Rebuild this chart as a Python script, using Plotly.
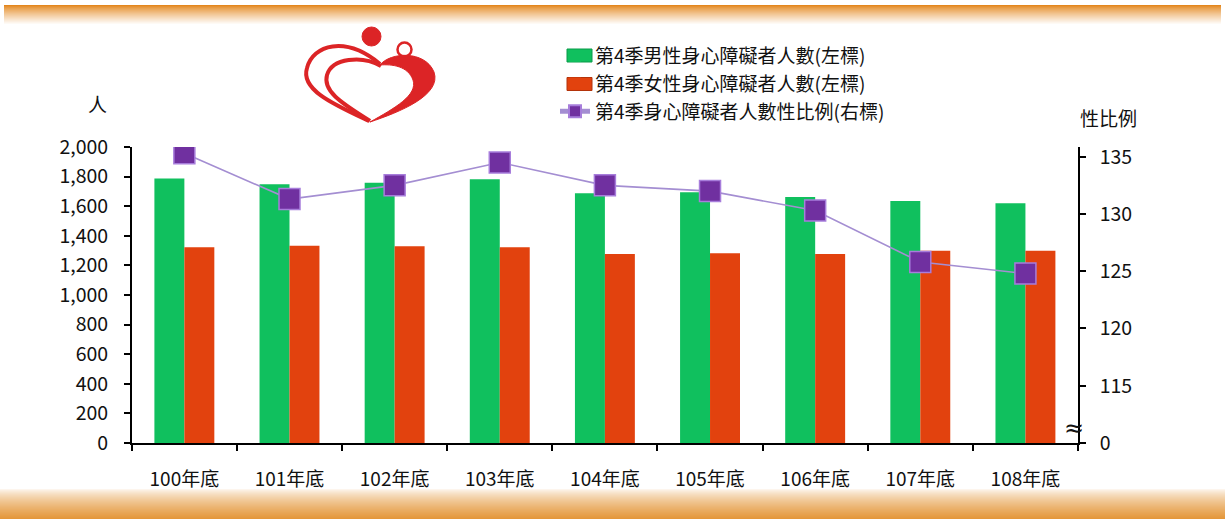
import plotly.graph_objects as go

W, H = 1225, 519

categories = ["100年底", "101年底", "102年底", "103年底", "104年底",
              "105年底", "106年底", "107年底", "108年底"]
male = [1788, 1748, 1759, 1782, 1687, 1694, 1662, 1635, 1620]
female = [1322, 1333, 1329, 1322, 1277, 1282, 1277, 1299, 1299]
ratio = [135.3, 131.3, 132.5, 134.5, 132.5, 132.0, 130.3, 125.8, 124.8]

left_ticks = [0, 200, 400, 600, 800, 1000, 1200, 1400, 1600, 1800, 2000]
right_ticks = [110, 115, 120, 125, 130, 135]
right_ticktext = ["0", "115", "120", "125", "130", "135"]

name_m = "第4季男性身心障礙者人數(左標)"
name_f = "第4季女性身心障礙者人數(左標)"
name_r = "第4季身心障礙者人數性比例(右標)"

FONT = "Noto Sans CJK TC, Noto Sans, sans-serif"
GREEN, GREEN_D = "#10C05E", "#089A48"
ORANGE, ORANGE_D = "#E2420E", "#B3330A"

# plot area in pixels
X0, X1 = 131.8, 1078.0
Y_TOP, Y_BOT = 147.0, 443.0

fig = go.Figure()

fig.add_trace(go.Bar(
    x=categories, y=male, name=name_m, legendgroup="a",
    marker=dict(color=GREEN, line=dict(width=0)),
))
fig.add_trace(go.Bar(
    x=categories, y=female, name=name_f, legendgroup="b",
    marker=dict(color=ORANGE, line=dict(width=0)),
))
fig.add_trace(go.Scatter(
    x=categories, y=ratio, name=name_r, yaxis="y2", legendgroup="c",
    mode="lines+markers",
    line=dict(color="#A48ED2", width=1.6),
    marker=dict(symbol="square", size=21, color="#7030A0",
                line=dict(color="#A77DDB", width=1.5)),
))
# invisible trace for pixel-coordinate decoration axes
fig.add_trace(go.Scatter(x=[None], y=[None], xaxis="x3", yaxis="y3",
                         showlegend=False, hoverinfo="skip"))

shapes = []

def hexmix(c1, c2, t):
    a = [int(c1[i:i + 2], 16) for i in (1, 3, 5)]
    b = [int(c2[i:i + 2], 16) for i in (1, 3, 5)]
    return "#" + "".join(f"{round(a[k] + (b[k] - a[k]) * t):02x}" for k in range(3))

# top gradient band
n = 20
for i in range(n):
    y0 = 5 + i
    col = hexmix("#E3861C", "#FFFFFF", (i / (n - 1)) ** 0.8)
    shapes.append(dict(type="rect", xref="x3", yref="y3", x0=4, x1=1221,
                       y0=y0, y1=y0 + 1.05, line=dict(width=0), fillcolor=col,
                       layer="below"))
# bottom gradient band
n = 31
for i in range(n):
    y0 = 488 + i
    col = hexmix("#FFFFFF", "#E4973A", (i / (n - 1)) ** 0.7)
    shapes.append(dict(type="rect", xref="x3", yref="y3", x0=0, x1=1225,
                       y0=y0, y1=y0 + 1.05, line=dict(width=0), fillcolor=col,
                       layer="below"))

# wide legend swatches behind the legend's own symbols
for yc, c, cd in ((55.5, GREEN, GREEN_D), (84.0, ORANGE, ORANGE_D)):
    shapes.append(dict(type="rect", xref="x3", yref="y3", x0=567, x1=592,
                       y0=yc - 6.5, y1=yc + 6.5, fillcolor=c,
                       line=dict(color=cd, width=1)))

RED = "#DC2426"
# logo: outer arm
shapes.append(dict(type="path", xref="x3", yref="y3",
                   path="M 369 121 C 335 105, 300 90, 307 68 C 313 45, 345 35, 380 64",
                   line=dict(color=RED, width=4)))
# logo: inner heart left lobe
shapes.append(dict(type="path", xref="x3", yref="y3",
                   path="M 370 121 C 345 105, 322 92, 327 75 C 332 58, 362 55, 381 66",
                   line=dict(color=RED, width=4)))
# logo: right filled body
shapes.append(dict(type="path", xref="x3", yref="y3",
                   path="M 380 65 C 390 52, 425 50, 434 72 C 442 95, 400 112, 370 122 "
                        "C 395 108, 418 95, 413 80 C 408 66, 392 64, 380 65 Z",
                   line=dict(color=RED, width=1), fillcolor=RED))
# logo: heads
shapes.append(dict(type="circle", xref="x3", yref="y3",
                   x0=362, x1=381, y0=27, y1=46, line=dict(color=RED, width=1),
                   fillcolor=RED))
shapes.append(dict(type="circle", xref="x3", yref="y3",
                   x0=397.5, x1=411.5, y0=42.5, y1=56.5, line=dict(color=RED, width=2.5),
                   fillcolor="rgba(0,0,0,0)"))

annotations = [
    dict(text="人", xref="x3", yref="y3", x=97, y=103, showarrow=False,
         font=dict(size=19, color="#111111", family=FONT)),
    dict(text="性比例", xref="x3", yref="y3", x=1108, y=117, showarrow=False,
         font=dict(size=19, color="#111111", family=FONT)),
    dict(text="≈", xref="x3", yref="y3", x=1074, y=428, showarrow=False,
         font=dict(size=24, color="#111111", family="DejaVu Sans")),
]

fig.update_layout(
    template="none",
    width=W, height=H,
    margin=dict(l=0, r=0, t=0, b=0, pad=0, autoexpand=False),
    paper_bgcolor="white", plot_bgcolor="rgba(0,0,0,0)",
    font=dict(family=FONT, size=19, color="#111111"),
    barmode="group", bargap=0.43, bargroupgap=0,
    showlegend=True,
    legend=dict(x=555 / W, y=1 - 37 / H, xanchor="left", yanchor="top",
                font=dict(size=19, family=FONT, color="#111111"),
                traceorder="grouped", tracegroupgap=0, itemsizing="constant",
                bgcolor="rgba(0,0,0,0)"),
    xaxis=dict(domain=[X0 / W, X1 / W], type="category", automargin=False,
               range=[-0.5, 8.5],
               showline=True, linecolor="black", linewidth=1.5,
               ticks="outside", tickson="boundaries", ticklen=6,
               tickcolor="black", tickwidth=1.5,
               showgrid=False, zeroline=False, ticklabelstandoff=18,
               tickfont=dict(size=19)),
    yaxis=dict(domain=[1 - Y_BOT / H, 1 - Y_TOP / H], range=[0, 2000],
               automargin=False,
               tickvals=left_ticks, tickformat=",d",
               showline=True, linecolor="black", linewidth=1.5,
               ticks="outside", ticklen=6, tickcolor="black", tickwidth=1.5,
               showgrid=False, zeroline=False, ticklabelstandoff=12,
               tickfont=dict(size=19.5)),
    yaxis2=dict(overlaying="y", side="right", anchor="x", automargin=False,
                range=[110, 135.85], tickvals=right_ticks, ticktext=right_ticktext,
                showline=True, linecolor="black", linewidth=1.5,
                ticks="outside", ticklen=6, tickcolor="black", tickwidth=1.5,
                showgrid=False, zeroline=False, ticklabelstandoff=10,
                tickfont=dict(size=19.5)),
    xaxis3=dict(domain=[0, 1], range=[0, W], visible=False, anchor="y3",
                fixedrange=True, automargin=False),
    yaxis3=dict(domain=[0, 1], range=[H, 0], visible=False, anchor="x3",
                fixedrange=True, automargin=False),
    shapes=shapes,
    annotations=annotations,
)

fig.write_html("out.html", config={"displayModeBar": False},
               post_script="document.body.style.margin='0';document.body.style.overflow='hidden';")
